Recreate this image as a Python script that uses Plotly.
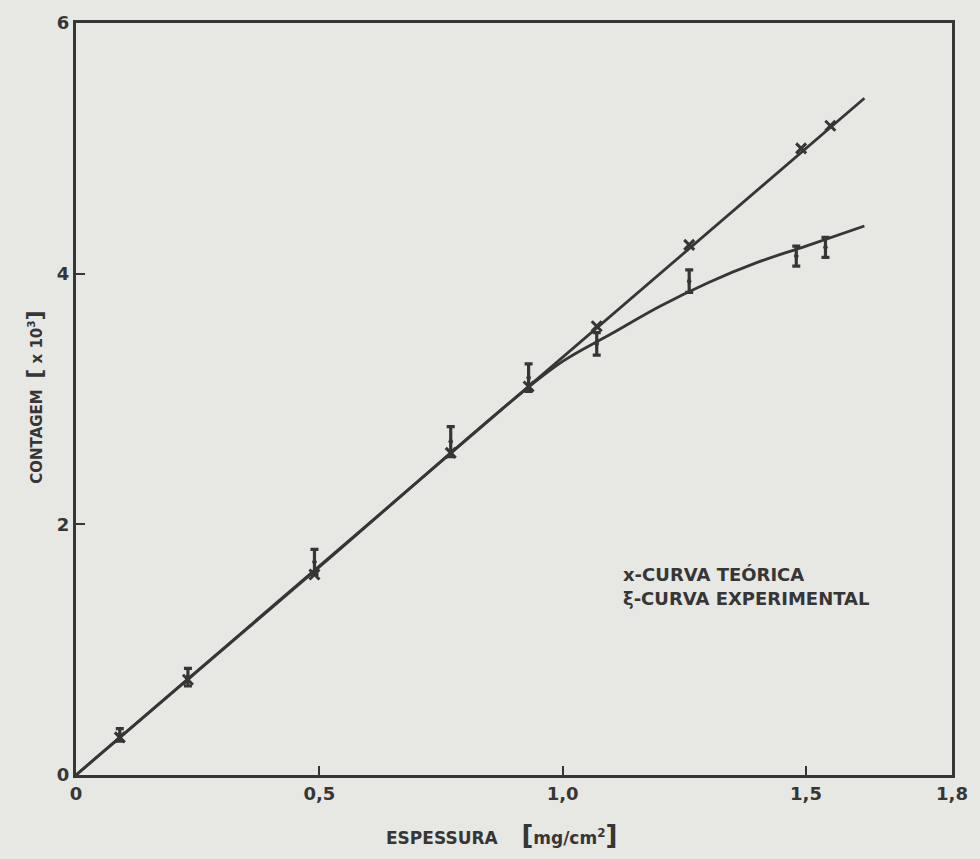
import plotly.graph_objects as go

# Theoretical points (x markers)
teo_x = [0.09, 0.23, 0.49, 0.77, 0.93, 1.07, 1.26, 1.49, 1.55]
teo_y = [0.30, 0.76, 1.60, 2.57, 3.10, 3.58, 4.23, 5.00, 5.18]

# Experimental points (error-bar style markers)
exp_x = [0.09, 0.23, 0.49, 0.77, 0.93, 1.07, 1.26, 1.48, 1.54]
exp_y = [0.32, 0.78, 1.70, 2.66, 3.17, 3.44, 3.94, 4.14, 4.21]
exp_err = [0.05, 0.07, 0.10, 0.12, 0.11, 0.09, 0.09, 0.08, 0.08]

# Curves
teo_curve_x = [0.0, 1.62]
teo_curve_y = [0.0, 5.40]
exp_curve_x = [0.0, 0.5, 0.9, 1.0, 1.1, 1.2, 1.3, 1.4, 1.5, 1.62]
exp_curve_y = [0.0, 1.66, 3.0, 3.3, 3.52, 3.74, 3.93, 4.09, 4.22, 4.38]

x_ticks = [0, 0.5, 1.0, 1.5, 1.8]
x_tick_labels = ["0", "0,5", "1,0", "1,5", "1,8"]
y_ticks = [0, 2, 4, 6]
y_tick_labels = ["0", "2", "4", "6"]

ink = "#363636"
bg = "#e7e7e4"
font = "DejaVu Sans"

fig = go.Figure()
fig.add_trace(go.Scatter(x=teo_curve_x, y=teo_curve_y, mode="lines",
                         line=dict(color=ink, width=2.8), showlegend=False, hoverinfo="skip"))
fig.add_trace(go.Scatter(x=exp_curve_x, y=exp_curve_y, mode="lines",
                         line=dict(color=ink, width=2.8, shape="spline"), showlegend=False, hoverinfo="skip"))
fig.add_trace(go.Scatter(x=teo_x, y=teo_y, mode="markers",
                         marker=dict(symbol="x-thin", size=10, line=dict(color=ink, width=3)),
                         showlegend=False))
fig.add_trace(go.Scatter(x=exp_x, y=exp_y, mode="markers",
                         marker=dict(symbol="diamond-tall", size=7, color=ink),
                         error_y=dict(type="data", array=exp_err, visible=True, color=ink, thickness=3.2, width=4),
                         showlegend=False))

L, R, T, B = 76, 14, 13, 84
W, H = 980, 859
pw, ph = W - L - R, H - T - B

def px(xp):
    return (xp - L) / pw

def py(yp):
    return 1 - (yp - T) / ph

fig.add_annotation(x=px(630), y=py(572), xref="paper", yref="paper", text="<b>x-CURVA TEÓRICA</b>",
                   showarrow=False, xanchor="left", yanchor="middle",
                   font=dict(family=font, size=18, color=ink))
fig.add_annotation(x=px(630), y=py(596), xref="paper", yref="paper", text="<b>ξ-CURVA EXPERIMENTAL</b>",
                   showarrow=False, xanchor="left", yanchor="middle",
                   font=dict(family=font, size=18, color=ink))

# Axis titles
fig.add_annotation(x=px(508), y=py(836), xref="paper", yref="paper",
                   text="<b>ESPESSURA    <span style='font-size:26px'>[</span>mg/cm<sup>2</sup><span style='font-size:26px'>]</span></b>",
                   showarrow=False, xanchor="center", yanchor="middle",
                   font=dict(family=font, size=17, color=ink))
fig.add_annotation(x=px(33), y=py(392), xref="paper", yref="paper", textangle=-90,
                   text="<b>CONTAGEM  <span style='font-size:22px'>[</span> x 10<sup>3</sup><span style='font-size:22px'>]</span></b>",
                   showarrow=False, xanchor="center", yanchor="middle",
                   font=dict(family=font, size=15, color=ink))

bold = lambda s: "<b>" + s + "</b>"

fig.update_layout(
    width=W, height=H,
    margin=dict(l=L, r=R, t=T, b=B),
    paper_bgcolor=bg, plot_bgcolor=bg,
    font=dict(family=font, color=ink),
    xaxis=dict(range=[0, 1.8], tickvals=x_ticks, ticktext=[bold(t) for t in x_tick_labels],
               ticks="inside", ticklen=9, tickwidth=2, tickcolor=ink, ticklabeloverflow="allow",
               showgrid=False, zeroline=False, showline=True, linecolor=ink, linewidth=3,
               mirror=True, tickfont=dict(family=font, size=18, color=ink)),
    yaxis=dict(range=[0, 6], tickvals=y_ticks, ticktext=[bold(t) for t in y_tick_labels],
               ticks="inside", ticklen=9, tickwidth=2, tickcolor=ink, ticklabeloverflow="allow",
               showgrid=False, zeroline=False, showline=True, linecolor=ink, linewidth=3,
               mirror=True, tickfont=dict(family=font, size=18, color=ink)),
)

fig.write_html("out.html", config={"displayModeBar": False},
               post_script="document.body.style.margin='0';document.body.style.overflow='hidden';document.body.style.background='%s';" % bg)
